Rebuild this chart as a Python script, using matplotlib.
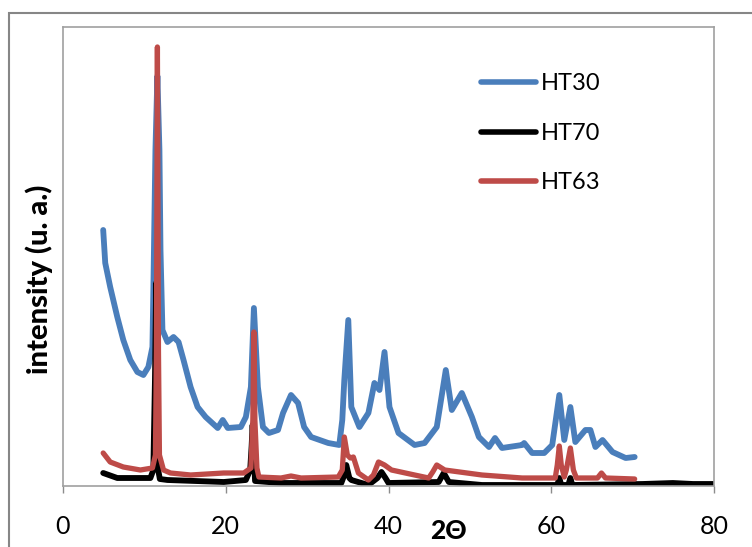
import numpy as np
import matplotlib
matplotlib.use("Agg")
import matplotlib.pyplot as plt
from matplotlib.patches import Rectangle

plt.rcParams['font.family'] = ['Lato', 'DejaVu Sans']

# HT30 (blue)
ht30_x = [4.94, 5.19, 5.80, 6.67, 7.41, 8.27, 9.14, 9.88, 10.49, 10.99, 11.11, 11.36,
          11.60, 11.85, 11.98, 12.22, 12.84, 13.58, 14.20, 14.81, 15.68, 16.54, 17.53,
          19.01, 19.63, 20.25, 21.85, 22.47, 23.09, 23.46, 23.95, 24.57, 25.31, 26.42,
          27.04, 28.02, 28.89, 29.63, 30.49, 32.59, 33.95, 34.32, 34.57, 35.06, 35.43,
          36.42, 37.53, 38.27, 38.89, 39.51, 40.12, 41.23, 43.21, 44.44, 45.93, 47.04,
          47.78, 49.01, 50.25, 51.11, 52.35, 53.09, 53.95, 56.42, 56.67, 57.65, 59.14,
          60.12, 60.99, 61.60, 62.35, 62.96, 64.20, 64.81, 65.43, 66.30, 67.53, 69.14,
          70.25]
ht30_y = [256, 223, 199, 169, 146, 126, 114, 111, 119, 139, 199, 336,
          410, 336, 236, 156, 144, 149, 144, 126, 99, 79, 69,
          58, 66, 58, 59, 69, 99, 178, 99, 59, 53, 56,
          73, 91, 83, 59, 49, 43, 41, 66, 106, 166, 79,
          59, 73, 103, 96, 134, 79, 53, 41, 43, 59, 116,
          76, 93, 69, 49, 39, 48, 38, 41, 43, 33, 33,
          41, 91, 46, 79, 44, 56, 56, 39, 46, 34, 28,
          29]

# HT70 (black)
ht70_x = [4.94, 6.67, 10.74, 11.10, 11.30, 11.45, 11.58, 11.70, 11.90, 12.84, 19.75,
          22.47, 23.00, 23.18, 23.30, 23.42, 23.60, 26.79, 34.20, 34.57, 34.81, 35.19,
          35.43, 37.53, 38.64, 39.14, 39.63, 40.00, 46.17, 46.79, 47.41, 51.48, 60.74,
          60.99, 61.23, 62.10, 62.35, 62.59, 71.23, 74.94, 77.41, 80.25]
ht70_y = [13, 8, 8, 16, 106, 203, 106, 16, 7, 6, 4,
          6, 16, 40, 61, 40, 5, 3, 3, 11, 21, 8,
          6, 1, 8, 14, 8, 3, 4, 13, 4, 1, 1,
          8, 1, 1, 8, 1, 2, 3, 2, 2]

# HT63 (red)
ht63_x = [4.94, 5.80, 7.41, 9.51, 10.99, 11.36, 11.48, 11.60, 11.73, 11.85, 12.35,
          13.21, 15.68, 19.75, 22.22, 23.09, 23.33, 23.46, 23.58, 23.83, 24.07, 26.79,
          28.02, 29.26, 33.83, 34.32, 34.57, 34.94, 35.31, 35.68, 36.30, 37.53, 38.15,
          38.77, 39.51, 40.37, 43.21, 44.94, 45.43, 45.93, 46.91, 51.48, 56.42, 60.49,
          60.74, 60.99, 61.23, 61.60, 61.85, 62.35, 62.72, 63.09, 65.68, 66.17, 66.67,
          70.25]
ht63_y = [33, 24, 19, 16, 18, 31, 136, 439, 136, 31, 16,
          13, 11, 13, 13, 18, 66, 154, 66, 18, 9, 8,
          10, 8, 9, 16, 49, 31, 28, 29, 13, 6, 11,
          24, 21, 16, 11, 8, 14, 21, 16, 11, 8, 8,
          21, 40, 21, 9, 16, 38, 16, 8, 8, 13, 8,
          7]

W, H = 752, 547
fig = plt.figure(figsize=(W / 100, H / 100), dpi=100)
ax = fig.add_axes([63 / W, 1 - 486 / H, (714 - 63) / W, (486 - 27) / H])

ax.plot(ht30_x, ht30_y, color='#4A7EBB', lw=4.2, label='HT30',
        solid_capstyle='round', solid_joinstyle='round')
ax.plot(ht70_x, ht70_y, color='black', lw=4.2, label='HT70',
        solid_capstyle='round', solid_joinstyle='round')
ax.plot(ht63_x, ht63_y, color='#BE4B48', lw=3.8, label='HT63',
        solid_capstyle='round', solid_joinstyle='round')

ax.set_xlim(0, 80)
ax.set_ylim(0, 459)
ax.set_xticks([0, 20, 40, 60, 80])
ax.set_yticks([])
ax.tick_params(axis='x', direction='out', length=5, width=1, color='#8C8C8C',
               labelsize=18, pad=16)
for s in ax.spines.values():
    s.set_color('#A0A0A0')
    s.set_linewidth(1.2)

ax.set_ylabel('intensity (u. a.)', fontsize=21, fontweight='black')
ax.yaxis.set_label_coords(-0.015, 0.45)
ax.text(0.592, -0.098, '2Θ', transform=ax.transAxes, fontsize=19, fontweight='black',
        ha='center', va='center')

leg = ax.legend(loc='upper left', bbox_to_anchor=(0.61, 0.945), frameon=False,
                fontsize=17, handlelength=2.3, handletextpad=0.2, labelspacing=1.2)
for line in leg.get_lines():
    line.set_linewidth(4)

# outer chart frame
fig.patches.append(Rectangle((9 / W, -0.1), 1.2, 1 - 13 / H + 0.1, transform=fig.transFigure,
                             fill=False, edgecolor='#868686', lw=1.5))

fig.savefig('out.png', dpi=100)
